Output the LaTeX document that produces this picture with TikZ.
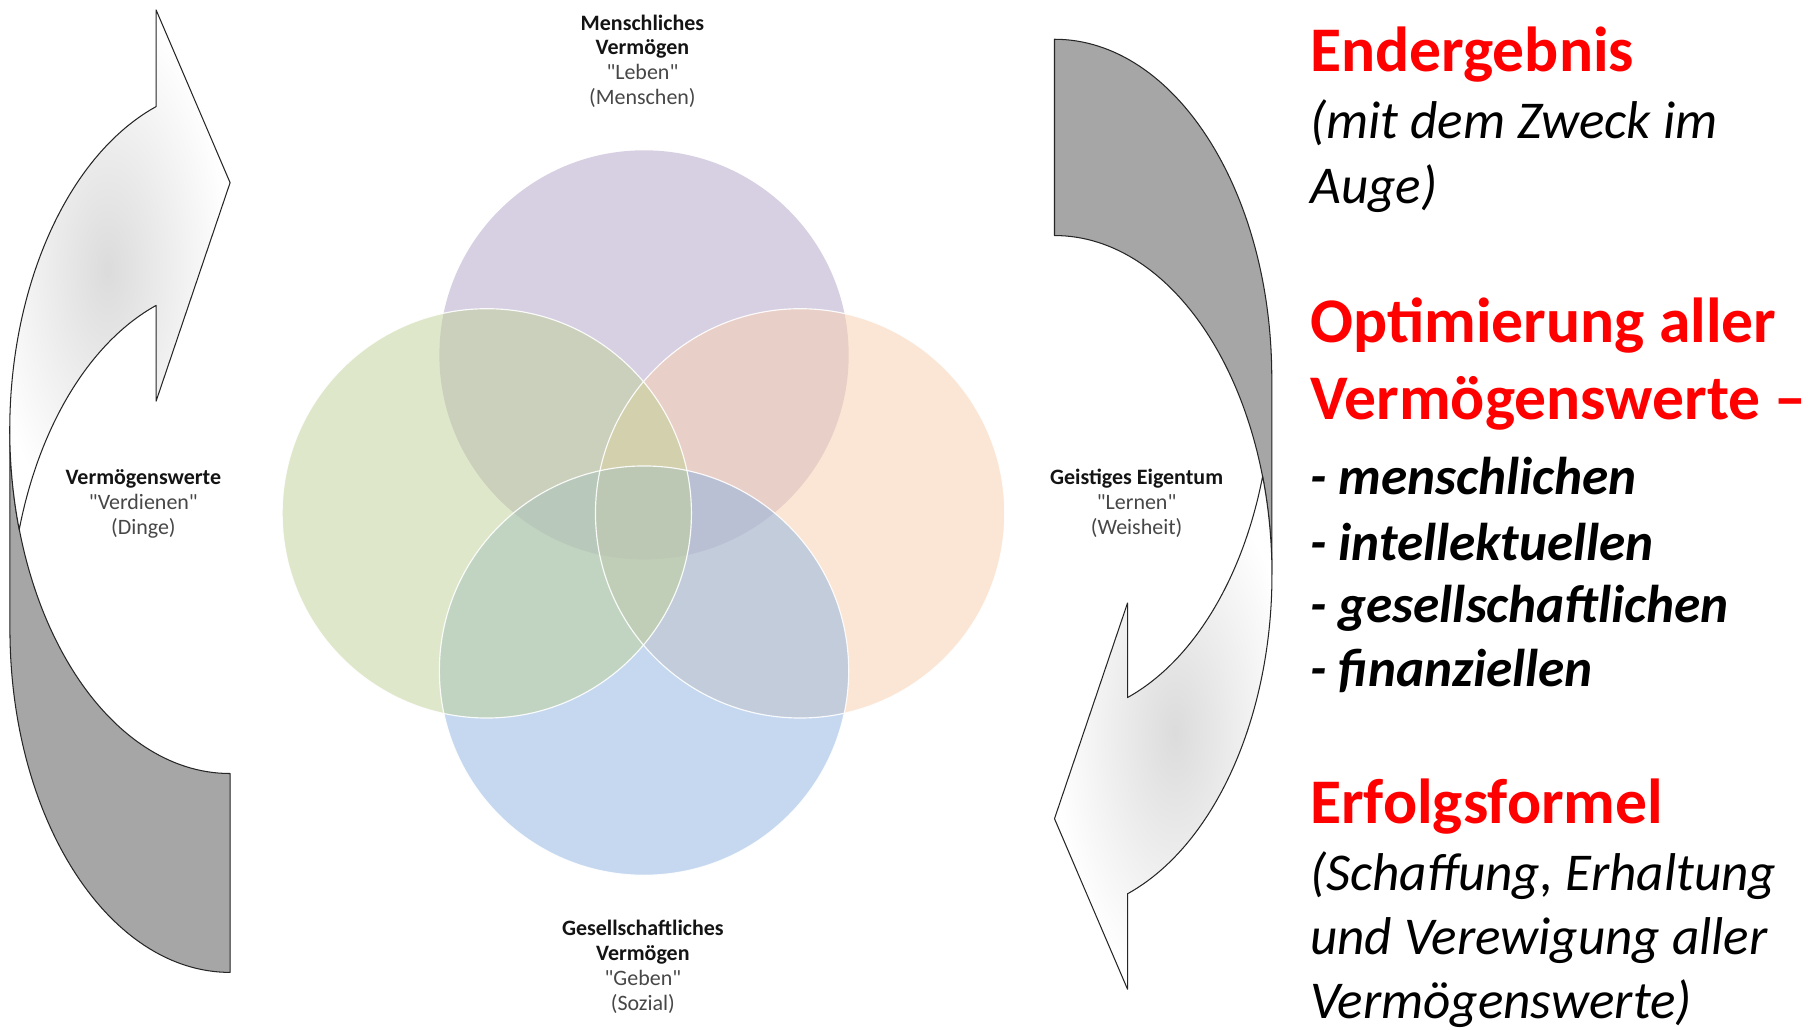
\documentclass[tikz,border=0pt]{standalone}
\usepackage{fontspec}
\setmainfont{Carlito}
\newfontfamily\lblfont{Carlito}
\definecolor{vpurple}{RGB}{177,161,199}
\definecolor{vgreen}{RGB}{191,209,149}
\definecolor{vorange}{RGB}{249,207,173}
\definecolor{vblue}{RGB}{141,179,225}
\begin{document}
\begin{tikzpicture}[x=1pt,y=1pt,
  arrowline/.style={draw=black!85, line width=0.9, line join=round},
  darkband/.style={arrowline, fill=black!35},
  lightband/.style={arrowline, inner color=black!14, outer color=white},
  venn/.style={fill opacity=0.5, draw=none},
  vennedge/.style={draw=white, line width=1, opacity=0.9},
  lbl/.style={anchor=base, inner sep=0, font=\lblfont\fontsize{19}{21}\selectfont, text=black!72},
  lblb/.style={anchor=base, inner sep=0, font=\lblfont\fontsize{19}{21}\selectfont\bfseries, text=black!92},
  headtxt/.style={anchor=base west, inner sep=0, text=red, font=\fontsize{55}{66}\selectfont\bfseries},
  subtxt/.style={anchor=base west, inner sep=0, font=\fontsize{46}{56}\selectfont\itshape},
  itemtxt/.style={anchor=base west, inner sep=0, font=\fontsize{46}{56}\selectfont\bfseries\itshape},
  cuarrow/.pic={
    \path[darkband] (8.6,346) arc[start angle=180,end angle=270,x radius=190.4,y radius=297]
      -- (199,221) arc[start angle=270,end angle=180,x radius=190.4,y radius=297] -- cycle;
    \path[lightband] (135,797.8) arc[start angle=109.6,end angle=196.83,x radius=190.4,y radius=297]
      arc[start angle=163.17,end angle=109.6,x radius=190.4,y radius=297]
      -- (135,543) -- (199,732) -- (135,881.4) -- cycle;
  }]
\useasboundingbox (0,0) rectangle (1568,890);
\fill[white] (0,0) rectangle (1568,890);

% Venn circles
\fill[venn, vpurple] (557,583) circle[radius=177];
\fill[venn, vorange] (692,446) circle[radius=177];
\fill[venn, vblue] (557,310) circle[radius=177];
\fill[venn, vgreen] (421,446) circle[radius=177];
\draw[vennedge] (692,446) circle[radius=177];
\draw[vennedge] (557,310) circle[radius=177];
\draw[vennedge] (421,446) circle[radius=177];

% curved arrows
\pic at (0,0) {cuarrow};
\begin{scope}[shift={(1108.4,904.4)}, rotate=180, scale=0.987]
  \pic[transform shape] at (0,0) {cuarrow};
\end{scope}

% circle labels
\node[lblb] (t1) at (555.6,864) {Menschliches};
\node[lblb] (t2) at (555.6,842.5) {Vermögen};
\node[lbl]  (t3) at (555.6,821) {"Leben"};
\node[lbl]  (t4) at (555.6,799.5) {(Menschen)};

\node[lblb] (b1) at (556,80.5) {Gesellschaftliches};
\node[lblb] (b2) at (556,59) {Vermögen};
\node[lbl]  (b3) at (556,37.5) {"Geben"};
\node[lbl]  (b4) at (556,16) {(Sozial)};

\node[lblb] (l1) at (124,471) {Vermögenswerte};
\node[lbl]  (l2) at (124,449.5) {"Verdienen"};
\node[lbl]  (l3) at (124,428) {(Dinge)};

\node[lblb] (r1) at (983,471) {Geistiges Eigentum};
\node[lbl]  (r2) at (983,449.5) {"Lernen"};
\node[lbl]  (r3) at (983,428) {(Weisheit)};

% right-hand text
\node[headtxt] (h1) at (1133,828.2) {Endergebnis};
\node[subtxt]  (s1) at (1133,770.4) {(mit dem Zweck im};
\node[subtxt]  (s2) at (1133,714.4) {Auge)};
\node[headtxt] (h2) at (1133,594) {Optimierung aller};
\node[headtxt] (h3) at (1133,527.2) {Vermögenswerte –};
\node[itemtxt] (i1) at (1133,462) {- menschlichen};
\node[itemtxt] (i2) at (1133,405.3) {- intellektuellen};
\node[itemtxt] (i3) at (1133,351.6) {- gesellschaftlichen};
\node[itemtxt] (i4) at (1133,296.6) {- finanziellen};
\node[headtxt] (h4) at (1133,177.5) {Erfolgsformel};
\node[subtxt]  (s3) at (1133,119.5) {(Schaffung, Erhaltung};
\node[subtxt]  (s4) at (1133,64.4) {und Verewigung aller};
\node[subtxt]  (s5) at (1133,9.2) {Vermögenswerte)};
\end{tikzpicture}
\end{document}
